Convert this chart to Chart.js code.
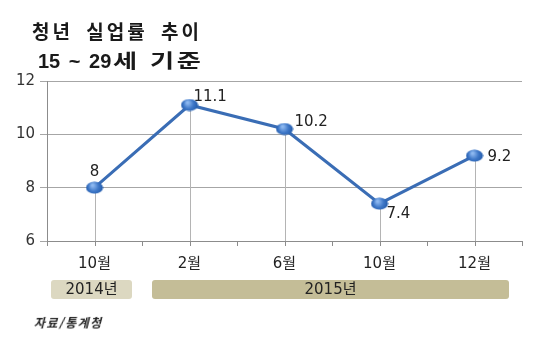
<!DOCTYPE html>
<html lang="ko">
<head>
<meta charset="utf-8">
<script src="https://cdn.jsdelivr.net/npm/chart.js@4"></script>
<style>
  html, body { margin: 0; padding: 0; background: #fff; }
  #wrap { position: relative; width: 539px; height: 338px; overflow: hidden; }
  #chart { position: absolute; left: 0; top: 0; }
  .title { position: absolute; font-family: "Liberation Sans", "Noto Sans CJK KR", sans-serif; font-weight: 700; font-size: 19px; color: #1a1a1a; line-height: 1; white-space: nowrap; }
  #t1 { left: 32px; top: 23px; letter-spacing: 3px; word-spacing: 5px; }
  #t2 { left: 38px; top: 51px; }
  #t2 .d { font-size: 20px; letter-spacing: 0; word-spacing: 3px; }
  #t2 .k { display: inline-block; margin-left: 2px; letter-spacing: 2px; transform: scaleX(1.38); transform-origin: left center; }
  #src { position: absolute; left: 33px; top: 314px; font-family: "Noto Sans CJK KR", sans-serif; font-weight: 700; font-size: 12px; color: #222; transform: skewX(-14deg); transform-origin: left bottom; letter-spacing: 1.5px; }
</style>
</head>
<body>
<div id="wrap">
  <canvas id="chart" width="539" height="338"></canvas>
  <div class="title" id="t1">청년 실업률 추이</div>
  <div class="title" id="t2"><span class="d">15 ~ 29</span><span class="k">세 기준</span></div>
  <div id="src">자료/통계청</div>
</div>
<script>
// 청년(15~29세) 실업률, 단위 %
const months = ['10월', '2월', '6월', '10월', '12월'];
const rates = [8, 11.1, 10.2, 7.4, 9.2];
const yTicks = [6, 8, 10, 12];
// 연도 구분 막대: 시작/끝 항목 인덱스
const years = [
  { label: '2014년', from: 0, to: 0 },
  { label: '2015년', from: 1, to: 4 }
];

const NUM_FONT = '"DejaVu Sans", "Noto Sans CJK KR", sans-serif';

// 타원형 그라데이션 마커
function makeMarker() {
  const c = document.createElement('canvas');
  c.width = 18; c.height = 13;
  const g = c.getContext('2d');
  const grad = g.createRadialGradient(7, 4, 1, 9, 6.5, 9);
  grad.addColorStop(0, '#8db8f0');
  grad.addColorStop(0.5, '#3f78c8');
  grad.addColorStop(1, '#1f58a8');
  g.fillStyle = grad;
  g.beginPath();
  g.ellipse(9, 6.5, 8.5, 6, 0, 0, Math.PI * 2);
  g.fill();
  return c;
}
const marker = makeMarker();

// 점에서 축까지 내려오는 보조선과 x축 눈금
const dropLines = {
  id: 'dropLines',
  beforeDatasetsDraw(chart) {
    const ctx = chart.ctx;
    const x = chart.scales.x;
    const bottom = chart.chartArea.bottom;
    const meta = chart.getDatasetMeta(0);
    ctx.save();
    ctx.strokeStyle = '#b4b4b4';
    ctx.lineWidth = 1;
    meta.data.forEach(pt => {
      const px = Math.round(pt.x) + 0.5;
      ctx.beginPath();
      ctx.moveTo(px, pt.y);
      ctx.lineTo(px, bottom);
      ctx.stroke();
    });
    ctx.strokeStyle = '#8c8c8c';
    months.forEach((m, i) => {
      const px = Math.round(x.getPixelForValue(i)) + 0.5;
      ctx.beginPath();
      ctx.moveTo(px, bottom);
      ctx.lineTo(px, bottom + 5);
      ctx.stroke();
    });
    ctx.restore();
  }
};

// 값 표시
const valueLabels = {
  id: 'valueLabels',
  afterDatasetsDraw(chart) {
    const ctx = chart.ctx;
    const meta = chart.getDatasetMeta(0);
    // [dx, dy, align]
    const place = [[0, -16, 'center'], [4, -8, 'left'], [10, -7, 'left'], [7, 10, 'left'], [13, 1, 'left']];
    ctx.save();
    ctx.font = '15px ' + NUM_FONT;
    ctx.fillStyle = '#222';
    ctx.textBaseline = 'middle';
    meta.data.forEach((pt, i) => {
      const p = place[i];
      ctx.textAlign = p[2];
      ctx.fillText(String(rates[i]), pt.x + p[0], pt.y + p[1]);
    });
    ctx.restore();
  }
};

// 연도 구분 막대
const yearBars = {
  id: 'yearBars',
  afterDraw(chart) {
    const ctx = chart.ctx;
    const x = chart.scales.x;
    const half = (x.getPixelForValue(1) - x.getPixelForValue(0)) / 2;
    const fills = ['#dcd8c1', '#c4bd97'];
    ctx.save();
    years.forEach((y, i) => {
      const l = x.getPixelForValue(y.from) - half + (i === 0 ? 4 : 10);
      const r = x.getPixelForValue(y.to) + half - (i === 0 ? 10 : 13);
      const top = 280, h = 19;
      ctx.fillStyle = fills[i];
      ctx.beginPath();
      ctx.roundRect(l, top, r - l, h, 3);
      ctx.fill();
      ctx.fillStyle = '#222';
      ctx.font = '15px ' + NUM_FONT;
      ctx.textAlign = 'center';
      ctx.textBaseline = 'middle';
      ctx.fillText(y.label, (l + r) / 2, top + h / 2 + 1);
    });
    ctx.restore();
  }
};

new Chart(document.getElementById('chart'), {
  type: 'line',
  data: {
    labels: months,
    datasets: [{
      data: rates,
      borderColor: '#3a6db5',
      borderWidth: 3,
      pointStyle: marker,
      pointRadius: 6,
      tension: 0,
      clip: false
    }]
  },
  options: {
    responsive: false,
    animation: false,
    devicePixelRatio: 1,
    layout: { padding: { top: 81, right: 17, bottom: 0, left: 0 } },
    plugins: { legend: { display: false }, tooltip: { enabled: false }, title: { display: false } },
    scales: {
      x: {
        offset: true,
        border: { color: '#8c8c8c', width: 1 },
        grid: { display: true, drawOnChartArea: false, tickLength: 5, color: '#8c8c8c', offset: true },
        ticks: { color: '#222', padding: 9, font: { family: NUM_FONT, size: 15 } },
        afterFit(s) { s.height = 97; }
      },
      y: {
        min: 6, max: 12,
        afterBuildTicks(s) { s.ticks = yTicks.map(v => ({ value: v })); },
        border: { color: '#8c8c8c', width: 1 },
        grid: { color: '#a6a6a6', tickLength: 7, lineWidth: 1 },
        ticks: { color: '#333', padding: 5, font: { family: NUM_FONT, size: 15 } },
        afterFit(s) { s.width = 47; }
      }
    }
  },
  plugins: [dropLines, valueLabels, yearBars]
});
</script>
</body>
</html>
